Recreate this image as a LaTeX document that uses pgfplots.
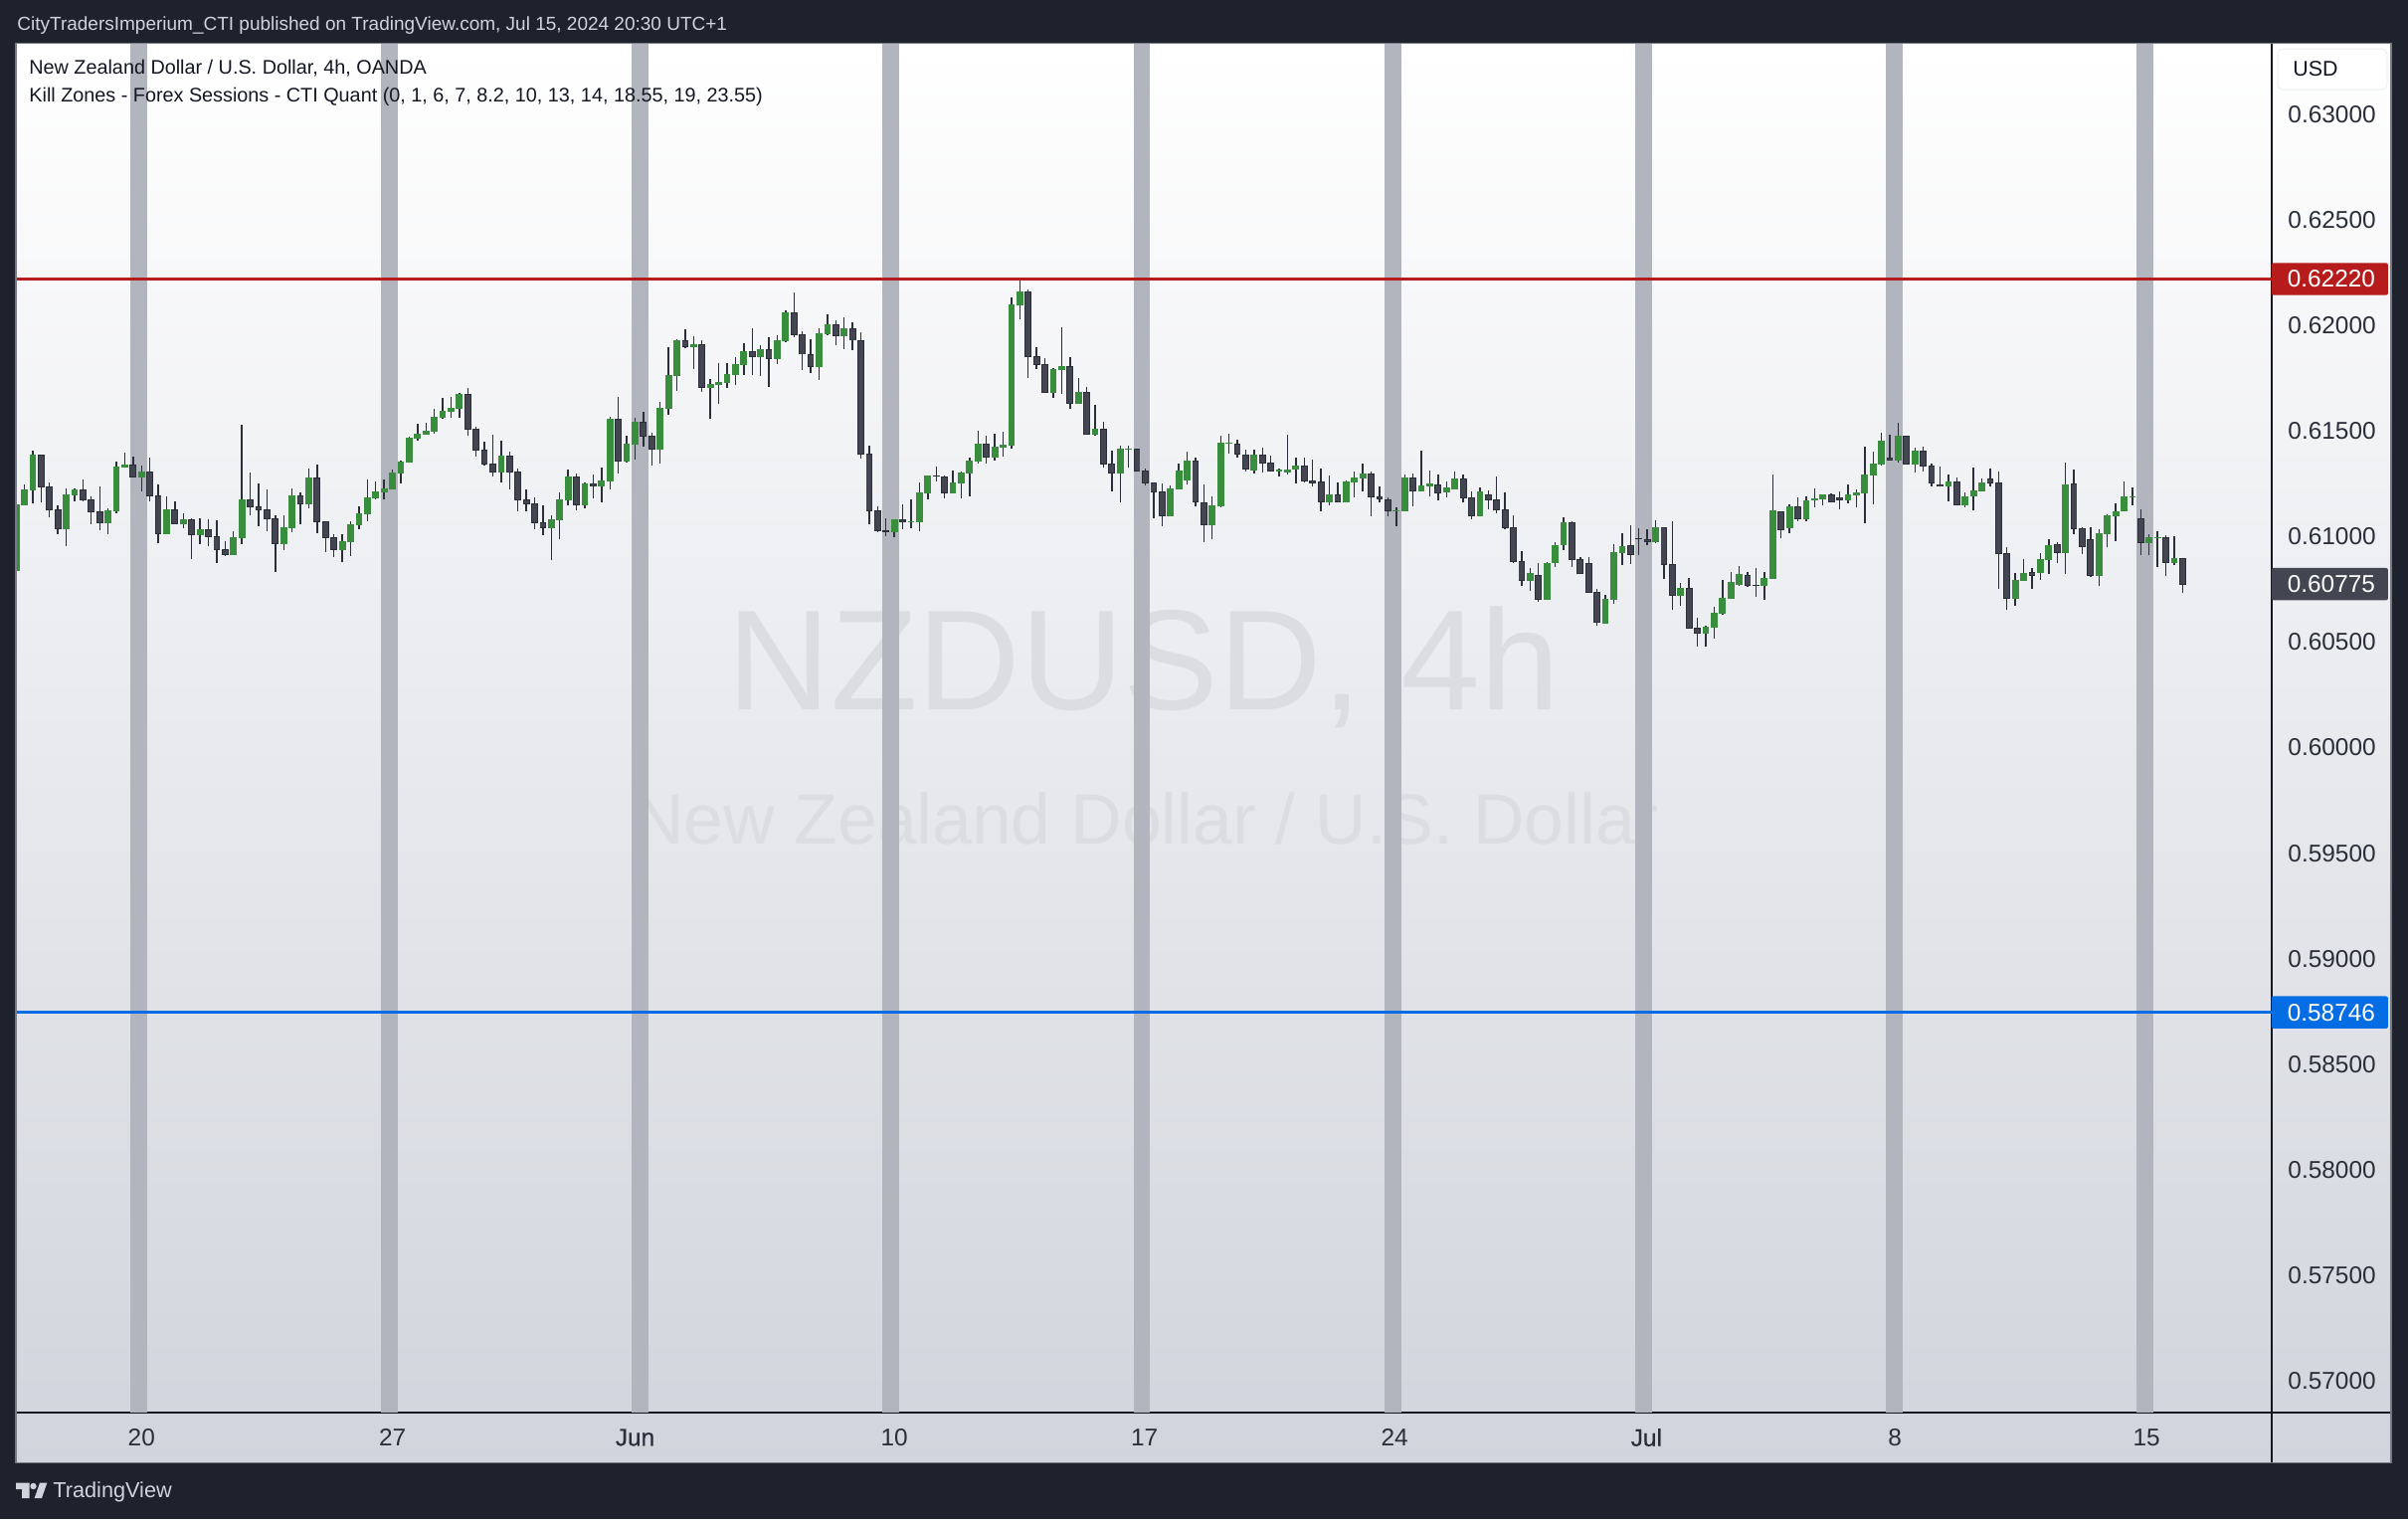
\documentclass[border=0pt]{standalone}
\usepackage{fontspec}
\setmainfont{Liberation Sans}
\newfontfamily\medfont[FakeBold=0.5]{Liberation Sans}
\usepackage{pgfplots}
\usepackage{pgfplotstable}
\pgfplotsset{compat=1.18}
\definecolor{tvbg}{HTML}{1E222D}
\definecolor{tvgray}{HTML}{D1D4DC}
\definecolor{tvframe}{HTML}{787B86}
\definecolor{tvline}{HTML}{131722}
\definecolor{band}{HTML}{B2B5BE}
\definecolor{upc}{HTML}{388E3C}
\definecolor{dnc}{HTML}{434651}
\definecolor{wick}{HTML}{2A2E39}
\definecolor{tvred}{HTML}{B71C1C}
\definecolor{tvblue}{HTML}{056DE3}
\definecolor{wmk}{HTML}{DCDDE2}
% columns: index, low, body bottom, body top, high
\pgfplotstableread{
x l b t h
0 0.60573 0.60839 0.61153 0.61186
1 0.61148 0.61148 0.61224 0.61246
2 0.61158 0.61219 0.61389 0.61408
6 0.60955 0.61035 0.61200 0.61228
7 0.61167 0.61195 0.61224 0.61228
11 0.61012 0.61063 0.61125 0.61134
12 0.61111 0.61120 0.61332 0.61354
13 0.61327 0.61327 0.61342 0.61398
15 0.61214 0.61280 0.61309 0.61337
18 0.61012 0.61012 0.61129 0.61191
20 0.61040 0.61059 0.61082 0.61111
22 0.60965 0.61007 0.61035 0.61087
26 0.60913 0.60913 0.60998 0.61026
27 0.60965 0.60993 0.61177 0.61530
32 0.60936 0.60965 0.61045 0.61101
33 0.61021 0.61040 0.61195 0.61228
35 0.61134 0.61153 0.61280 0.61323
39 0.60880 0.60936 0.60979 0.61012
40 0.60908 0.60974 0.61059 0.61073
41 0.61035 0.61054 0.61111 0.61144
42 0.61073 0.61106 0.61186 0.61271
43 0.61177 0.61181 0.61214 0.61261
44 0.61177 0.61210 0.61228 0.61271
45 0.61224 0.61224 0.61304 0.61318
46 0.61252 0.61299 0.61356 0.61360
47 0.61351 0.61351 0.61469 0.61474
48 0.61455 0.61464 0.61488 0.61535
49 0.61483 0.61483 0.61502 0.61539
50 0.61488 0.61497 0.61568 0.61605
51 0.61558 0.61563 0.61596 0.61657
52 0.61563 0.61591 0.61610 0.61662
53 0.61563 0.61605 0.61676 0.61681
58 0.61257 0.61304 0.61384 0.61455
64 0.60889 0.61040 0.61082 0.61101
65 0.60988 0.61078 0.61177 0.61210
66 0.61148 0.61172 0.61285 0.61318
68 0.61134 0.61148 0.61252 0.61257
70 0.61162 0.61238 0.61266 0.61327
71 0.61224 0.61261 0.61558 0.61568
73 0.61351 0.61356 0.61441 0.61478
74 0.61365 0.61436 0.61544 0.61563
77 0.61346 0.61412 0.61610 0.61638
78 0.61577 0.61605 0.61766 0.61898
79 0.61690 0.61761 0.61931 0.61935
81 0.61794 0.61898 0.61912 0.61950
83 0.61558 0.61704 0.61723 0.61747
84 0.61629 0.61719 0.61733 0.61822
85 0.61704 0.61728 0.61770 0.61822
86 0.61719 0.61766 0.61818 0.61851
87 0.61766 0.61813 0.61879 0.61917
89 0.61761 0.61851 0.61888 0.61907
91 0.61818 0.61841 0.61931 0.61954
92 0.61921 0.61926 0.62063 0.62072
96 0.61742 0.61803 0.61964 0.61987
97 0.61954 0.61959 0.62006 0.62053
99 0.61888 0.61950 0.61987 0.62039
105 0.60998 0.61021 0.61082 0.61082
107 0.61040 0.61068 0.61073 0.61177
108 0.61026 0.61068 0.61210 0.61257
109 0.61177 0.61205 0.61290 0.61290
112 0.61205 0.61205 0.61257 0.61313
113 0.61181 0.61252 0.61304 0.61309
114 0.61191 0.61299 0.61360 0.61375
115 0.61346 0.61356 0.61441 0.61502
117 0.61360 0.61375 0.61426 0.61488
118 0.61379 0.61422 0.61436 0.61497
119 0.61417 0.61431 0.62100 0.62133
120 0.62030 0.62096 0.62162 0.62224
124 0.61657 0.61681 0.61794 0.61799
125 0.61676 0.61789 0.61808 0.61992
127 0.61629 0.61629 0.61686 0.61752
129 0.61478 0.61483 0.61511 0.61624
132 0.61162 0.61299 0.61417 0.61431
133 0.61327 0.61412 0.61417 0.61431
138 0.61096 0.61096 0.61228 0.61243
139 0.61224 0.61224 0.61313 0.61346
140 0.61247 0.61266 0.61360 0.61403
143 0.60988 0.61054 0.61148 0.61190
144 0.61139 0.61143 0.61445 0.61478
145 0.61393 0.61440 0.61445 0.61487
148 0.61299 0.61313 0.61388 0.61412
151 0.61285 0.61308 0.61318 0.61322
152 0.61294 0.61304 0.61318 0.61483
153 0.61252 0.61318 0.61337 0.61374
157 0.61148 0.61162 0.61200 0.61289
159 0.61162 0.61162 0.61261 0.61266
160 0.61186 0.61256 0.61280 0.61308
161 0.61214 0.61275 0.61299 0.61346
165 0.61049 0.61120 0.61124 0.61139
166 0.61120 0.61120 0.61280 0.61294
168 0.61214 0.61214 0.61242 0.61407
169 0.61190 0.61238 0.61252 0.61313
171 0.61186 0.61209 0.61233 0.61261
172 0.61223 0.61223 0.61275 0.61308
175 0.61096 0.61096 0.61214 0.61233
181 0.60743 0.60790 0.60828 0.60851
183 0.60700 0.60700 0.60875 0.60879
184 0.60856 0.60875 0.60959 0.60974
185 0.60936 0.60959 0.61068 0.61091
190 0.60587 0.60587 0.60705 0.60724
191 0.60681 0.60700 0.60926 0.60964
192 0.60865 0.60922 0.60955 0.61016
196 0.60969 0.60974 0.61044 0.61077
199 0.60672 0.60719 0.60757 0.60780
202 0.60479 0.60540 0.60573 0.60578
203 0.60516 0.60568 0.60639 0.60667
204 0.60630 0.60634 0.60710 0.60795
205 0.60705 0.60705 0.60785 0.60832
206 0.60766 0.60771 0.60823 0.60861
209 0.60700 0.60766 0.60804 0.60832
210 0.60799 0.60799 0.61124 0.61294
212 0.61016 0.61040 0.61143 0.61153
214 0.61073 0.61082 0.61172 0.61190
215 0.61139 0.61172 0.61181 0.61228
216 0.61148 0.61176 0.61200 0.61200
219 0.61157 0.61172 0.61200 0.61247
220 0.61139 0.61195 0.61209 0.61223
221 0.61063 0.61205 0.61294 0.61426
222 0.61153 0.61289 0.61346 0.61403
223 0.61337 0.61341 0.61454 0.61492
225 0.61351 0.61360 0.61478 0.61539
227 0.61304 0.61341 0.61407 0.61421
231 0.61167 0.61238 0.61261 0.61294
233 0.61139 0.61148 0.61190 0.61209
234 0.61124 0.61190 0.61219 0.61327
235 0.61214 0.61214 0.61256 0.61275
239 0.60672 0.60705 0.60795 0.60828
240 0.60790 0.60790 0.60828 0.60893
242 0.60795 0.60828 0.60893 0.60922
243 0.60823 0.60889 0.60959 0.60988
245 0.60823 0.60922 0.61247 0.61351
249 0.60766 0.60813 0.61016 0.61035
250 0.60950 0.61011 0.61101 0.61106
251 0.60978 0.61096 0.61120 0.61157
252 0.61120 0.61120 0.61190 0.61261
253 0.61148 0.61186 0.61190 0.61233
255 0.60912 0.60969 0.60997 0.61011
256 0.60856 0.60992 0.60997 0.61025
258 0.60865 0.60875 0.60898 0.61002
}\upcandles
\pgfplotstableread{
x l b t h
3 0.61162 0.61235 0.61387 0.61389
4 0.61092 0.61126 0.61236 0.61257
5 0.61012 0.61037 0.61128 0.61148
8 0.61167 0.61173 0.61222 0.61271
9 0.61059 0.61117 0.61175 0.61191
10 0.61030 0.61065 0.61118 0.61238
14 0.61282 0.61282 0.61340 0.61379
16 0.61167 0.61192 0.61307 0.61375
17 0.60969 0.61013 0.61194 0.61247
19 0.61060 0.61060 0.61128 0.61167
21 0.60894 0.61008 0.61081 0.61087
23 0.60955 0.60999 0.61034 0.61082
24 0.60875 0.60938 0.61001 0.61078
25 0.60908 0.60914 0.60939 0.60979
28 0.61101 0.61140 0.61175 0.61304
29 0.61049 0.61126 0.61142 0.61252
30 0.61026 0.61084 0.61128 0.61224
31 0.60833 0.60966 0.61085 0.61101
34 0.61059 0.61155 0.61194 0.61210
36 0.61016 0.61070 0.61279 0.61342
37 0.60927 0.60994 0.61071 0.61073
38 0.60903 0.60938 0.60996 0.61012
54 0.61478 0.61508 0.61675 0.61704
55 0.61379 0.61409 0.61510 0.61521
56 0.61337 0.61343 0.61411 0.61450
57 0.61285 0.61305 0.61345 0.61483
59 0.61224 0.61305 0.61382 0.61403
60 0.61120 0.61173 0.61307 0.61323
61 0.61120 0.61155 0.61175 0.61224
62 0.61035 0.61065 0.61156 0.61186
63 0.61007 0.61041 0.61067 0.61148
67 0.61125 0.61150 0.61283 0.61299
69 0.61181 0.61239 0.61250 0.61294
72 0.61299 0.61357 0.61557 0.61662
75 0.61426 0.61475 0.61543 0.61591
76 0.61337 0.61414 0.61477 0.61492
80 0.61893 0.61899 0.61929 0.61983
82 0.61686 0.61706 0.61910 0.61931
88 0.61766 0.61852 0.61877 0.61987
90 0.61709 0.61843 0.61887 0.61945
93 0.61945 0.61956 0.62061 0.62157
94 0.61789 0.61862 0.61957 0.61973
95 0.61775 0.61805 0.61863 0.61935
98 0.61907 0.61951 0.62005 0.62025
100 0.61884 0.61928 0.61986 0.62016
101 0.61370 0.61390 0.61929 0.61968
102 0.61059 0.61122 0.61392 0.61431
103 0.61021 0.61027 0.61123 0.61144
104 0.61002 0.61023 0.61030 0.61087
106 0.61035 0.61070 0.61081 0.61153
110 0.61261 0.61285 0.61290 0.61332
111 0.61181 0.61206 0.61283 0.61290
116 0.61346 0.61376 0.61439 0.61478
121 0.61752 0.61852 0.62162 0.62171
122 0.61794 0.61814 0.61854 0.61898
123 0.61681 0.61682 0.61816 0.61846
126 0.61605 0.61631 0.61807 0.61851
128 0.61484 0.61484 0.61684 0.61709
130 0.61327 0.61343 0.61510 0.61544
131 0.61214 0.61301 0.61345 0.61408
134 0.61310 0.61310 0.61415 0.61417
135 0.61243 0.61254 0.61312 0.61323
136 0.61087 0.61211 0.61255 0.61257
137 0.61049 0.61098 0.61213 0.61252
141 0.61143 0.61162 0.61360 0.61374
142 0.60974 0.61055 0.61161 0.61247
146 0.61374 0.61390 0.61439 0.61459
147 0.61308 0.61319 0.61387 0.61412
149 0.61304 0.61348 0.61387 0.61421
150 0.61308 0.61310 0.61349 0.61384
154 0.61256 0.61263 0.61335 0.61374
155 0.61238 0.61253 0.61264 0.61365
156 0.61120 0.61164 0.61260 0.61322
158 0.61162 0.61164 0.61198 0.61256
162 0.61096 0.61187 0.61297 0.61308
163 0.61162 0.61178 0.61189 0.61238
164 0.61096 0.61121 0.61175 0.61186
167 0.61143 0.61216 0.61278 0.61299
170 0.61172 0.61206 0.61245 0.61294
173 0.61162 0.61183 0.61274 0.61294
174 0.61082 0.61098 0.61184 0.61214
176 0.61129 0.61173 0.61198 0.61219
177 0.61110 0.61124 0.61175 0.61285
178 0.61035 0.61041 0.61128 0.61209
179 0.60875 0.60881 0.61043 0.61101
180 0.60766 0.60791 0.60882 0.60931
182 0.60691 0.60702 0.60817 0.60875
186 0.60856 0.60890 0.61066 0.61073
187 0.60824 0.60824 0.60892 0.60903
188 0.60735 0.60735 0.60873 0.60903
189 0.60578 0.60593 0.60736 0.60752
193 0.60870 0.60914 0.60958 0.61054
194 0.60912 0.60988 0.60992 0.61040
195 0.60959 0.60975 0.60986 0.61035
197 0.60799 0.60867 0.61043 0.61044
198 0.60653 0.60721 0.60868 0.61073
200 0.60565 0.60565 0.60755 0.60804
201 0.60479 0.60542 0.60567 0.60615
207 0.60762 0.60768 0.60817 0.60832
208 0.60714 0.60766 0.60771 0.60851
211 0.60992 0.61032 0.61118 0.61120
213 0.61073 0.61084 0.61142 0.61186
217 0.61162 0.61164 0.61198 0.61205
218 0.61129 0.61173 0.61184 0.61214
224 0.61362 0.61362 0.61373 0.61483
226 0.61343 0.61343 0.61476 0.61478
228 0.61308 0.61333 0.61406 0.61426
229 0.61238 0.61253 0.61335 0.61346
230 0.61238 0.61238 0.61247 0.61332
232 0.61148 0.61150 0.61260 0.61280
236 0.61238 0.61252 0.61274 0.61322
237 0.60752 0.60919 0.61255 0.61308
238 0.60653 0.60707 0.60920 0.60950
241 0.60752 0.60815 0.60831 0.60851
244 0.60875 0.60923 0.60963 0.60974
246 0.61011 0.61036 0.61250 0.61318
247 0.60917 0.60952 0.61038 0.61044
248 0.60809 0.60815 0.60986 0.61044
254 0.60912 0.60970 0.61085 0.61129
257 0.60813 0.60876 0.60996 0.61007
259 0.60733 0.60773 0.60897 0.60897
}\downcandles
\pgfplotstableread{
x y
14.69 0.64
44.66 0.64
74.64 0.64
104.60 0.64
134.58 0.64
164.56 0.64
194.53 0.64
224.51 0.64
254.49 0.64
}\bands
\begin{document}
\begin{tikzpicture}
\path[use as bounding box,fill=tvbg] (0,0) rectangle (1210.5pt,-763.5pt);
\begin{scope}[x=0.5pt,y=-0.5pt]
\shade[top color=white,bottom color=tvgray] (16,43.5) rectangle (2404,1470.5);
\node[wmk,anchor=center,inner sep=0,font=\fontsize{71.7}{80}\selectfont] at (1150,671) {NZDUSD, 4h};
\node[wmk,anchor=center,inner sep=0,font=\fontsize{35.7}{40}\selectfont] at (1152,823) {New Zealand Dollar / U.S. Dollar};
\end{scope}
\begin{axis}[
  at={(8pt,-710pt)},anchor=south west,scale only axis,
  width=1134pt,height=688.25pt,
  xmin=-0.012,xmax=269.66,ymin=0.5685,ymax=0.63337,
  clip mode=individual,
  axis line style={draw=tvline,line width=0.6pt},
  major tick length=0pt,
  xtick={15,45,74,105,134.9,164.8,194.9,224.6,254.7},
  xticklabels={20,27,{\medfont Jun},10,17,24,{\medfont Jul},8,15},
  xticklabel style={anchor=center,yshift=-12.5pt,font=\fontsize{12.2}{14}\selectfont,text=wick},
  ytick={0.57,0.575,0.58,0.585,0.59,0.595,0.6,0.605,0.61,0.615,0.62,0.625,0.63},
  yticklabel pos=right,
  scaled y ticks=false,
  yticklabel style={anchor=west,inner sep=0pt,xshift=8pt,font=\fontsize{12.2}{14}\selectfont,text=wick,
    /pgf/number format/fixed,/pgf/number format/fixed zerofill,/pgf/number format/precision=5,
    /pgf/number format/assume math mode=true},
  tick style={draw=none},
  axis on top=false,
]
% session bands
\addplot[ycomb,draw=band,line width=8.4pt,forget plot] table[x=x,y=y] {\bands};
% wicks
\addplot[draw=none,mark=none,forget plot,
  error bars/.cd,y dir=plus,y explicit,error mark=none,
  error bar style={draw=wick,line width=0.7pt}]
  table[x=x,y=l,y error plus expr=\thisrow{h}-\thisrow{l}] {\upcandles};
\addplot[draw=none,mark=none,forget plot,
  error bars/.cd,y dir=plus,y explicit,error mark=none,
  error bar style={draw=wick,line width=0.7pt}]
  table[x=x,y=l,y error plus expr=\thisrow{h}-\thisrow{l}] {\downcandles};
% bodies
\addplot[draw=none,mark=none,forget plot,
  error bars/.cd,y dir=plus,y explicit,error mark=none,
  error bar style={draw=upc,line width=3.4pt}]
  table[x=x,y=b,y error plus expr=\thisrow{t}-\thisrow{b}] {\upcandles};
\addplot[draw=none,mark=none,forget plot,
  error bars/.cd,y dir=plus,y explicit,error mark=none,
  error bar style={draw=wick,line width=3.4pt}]
  table[x=x,y=b,y error plus expr=\thisrow{t}-\thisrow{b}] {\downcandles};
\addplot[draw=none,mark=none,forget plot,
  error bars/.cd,y dir=plus,y explicit,error mark=none,
  error bar style={draw=dnc,line width=2.5pt}]
  table[x=x,y expr=\thisrow{b}+0.00004,y error plus expr={max(\thisrow{t}-\thisrow{b}-0.00008,0)}] {\downcandles};
% horizontal levels
\addplot[tvred,line width=1.25pt,forget plot] coordinates {(-1,0.6222) (271,0.6222)};
\addplot[tvblue,line width=1.25pt,forget plot] coordinates {(-1,0.58746) (271,0.58746)};
% price tags
\node[fill=tvred,text=white,rounded corners=1pt,minimum width=58.5pt,minimum height=16.2pt,inner sep=0pt,font=\fontsize{12.2}{14}\selectfont,align=center] at (axis cs:276.6,0.6222) {\hspace{1.5pt}0.62220};
\node[fill=tvblue,text=white,rounded corners=1pt,minimum width=58.5pt,minimum height=16.2pt,inner sep=0pt,font=\fontsize{12.2}{14}\selectfont,align=center] at (axis cs:276.6,0.58746) {\hspace{1.5pt}0.58746};
\node[fill=dnc,text=white,rounded corners=1pt,minimum width=58.5pt,minimum height=16.2pt,inner sep=0pt,font=\fontsize{12.2}{14}\selectfont,align=center] at (axis cs:276.6,0.60775) {\hspace{1.5pt}0.60775};
\end{axis}
\begin{scope}[x=0.5pt,y=-0.5pt]
\draw[tvline,line width=0.6pt] (2284,1420) -- (2284,1470);
\draw[tvline,line width=0.6pt] (2284,1420) -- (2404,1420);
\draw[tvframe,line width=0.8pt] (16,43.5) rectangle (2404,1470.5);
\draw[fill=white,draw=tvgray!40,line width=0.5pt,rounded corners=3pt] (2290,49) rectangle (2400,90);
\node[anchor=west,inner sep=0,text=tvline,font=\fontsize{10.7}{13}\selectfont] at (2305,69) {USD};
\node[anchor=west,inner sep=0,text=tvgray,font=\fontsize{9.5}{12}\selectfont] at (17,26) {CityTradersImperium\_CTI published on TradingView.com, Jul 15, 2024 20:30 UTC+1};
\node[anchor=west,inner sep=0,text=tvline,font=\fontsize{9.9}{12}\selectfont] at (29,69) {New Zealand Dollar / U.S. Dollar, 4h, OANDA};
\node[anchor=west,inner sep=0,text=tvline,font=\fontsize{9.9}{12}\selectfont] at (29,97) {Kill Zones - Forex Sessions - CTI Quant (0, 1, 6, 7, 8.2, 10, 13, 14, 18.55, 19, 23.55)};
\fill[tvgray] (16,1490.7) -- (29.5,1490.7) -- (29.5,1506) -- (22,1506) -- (22,1497) -- (16,1497) -- cycle;
\fill[tvgray] (33.5,1494) circle[radius=3.2];
\fill[tvgray] (40,1490.7) -- (47.3,1490.7) -- (42,1506) -- (34.7,1506) -- cycle;
\node[anchor=west,inner sep=0,text=tvgray,font=\fontsize{10.85}{13}\selectfont] at (53,1500) {TradingView};
\end{scope}
\end{tikzpicture}
\end{document}
